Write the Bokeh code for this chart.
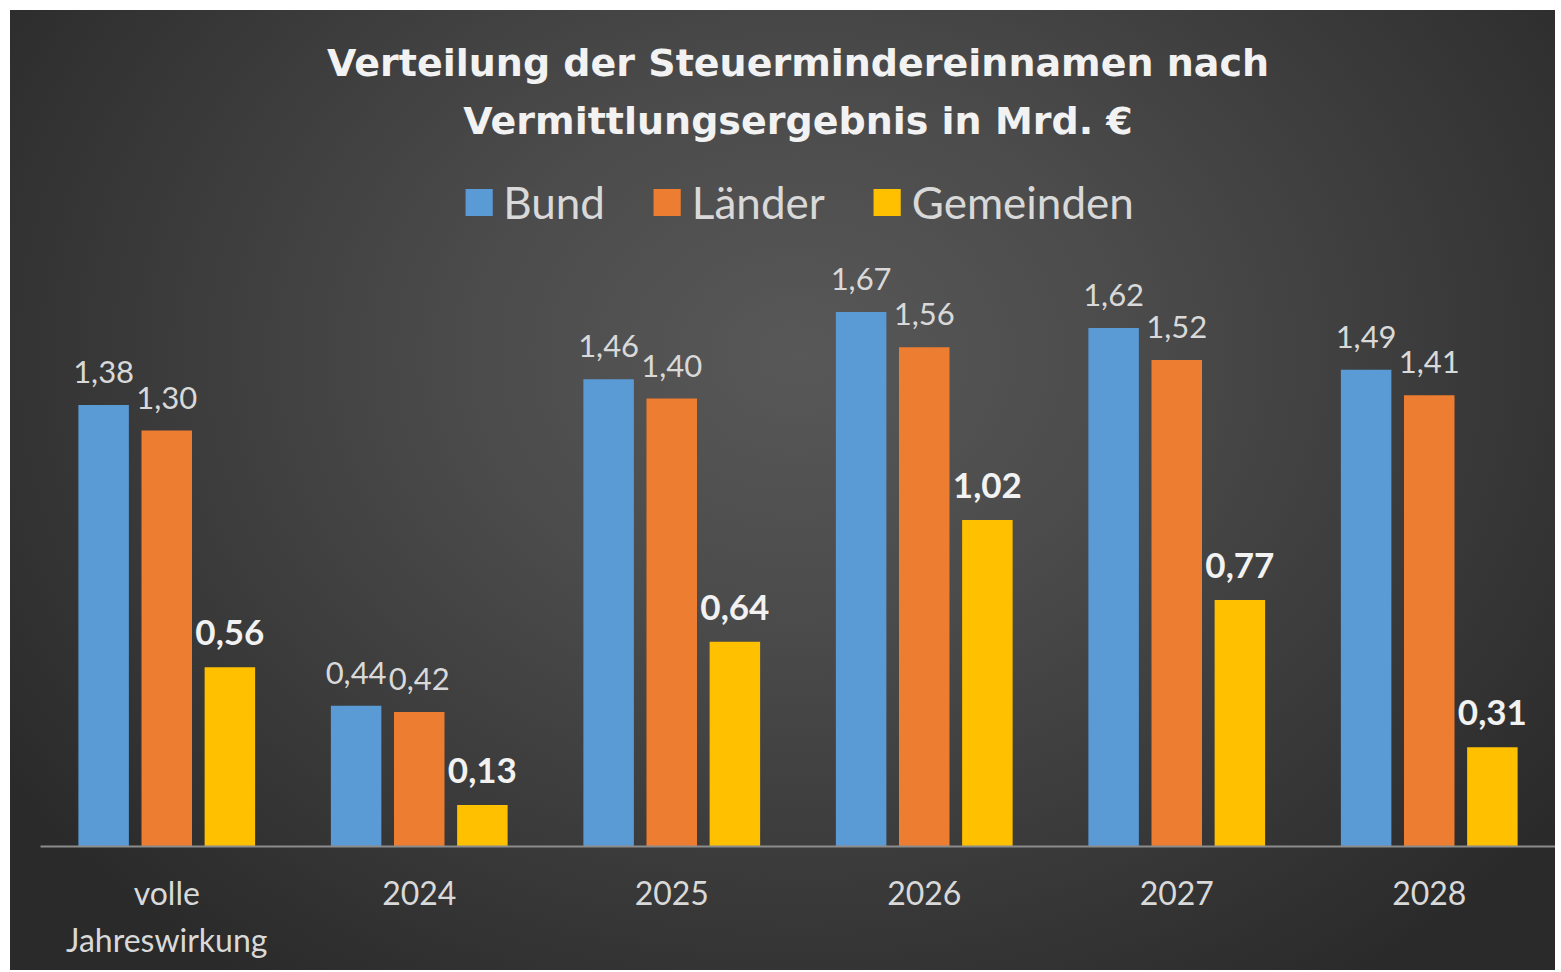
from bokeh.plotting import figure
from bokeh.models import ColumnDataSource, FactorRange, Range1d, LabelSet, Label, Legend, LegendItem
from bokeh.core.properties import value
from bokeh.transform import dodge
from bokeh.embed import file_html
from bokeh.resources import INLINE

categories = ["volle\nJahreswirkung", "2024", "2025", "2026", "2027", "2028"]
bund = [1.38, 0.44, 1.46, 1.67, 1.62, 1.49]
laender = [1.30, 0.42, 1.40, 1.56, 1.52, 1.41]
gemeinden = [0.56, 0.13, 0.64, 1.02, 0.77, 0.31]
series_names = ["Bund", "Länder", "Gemeinden"]
title_lines = ["Verteilung der Steuermindereinnamen nach", "Vermittlungsergebnis in Mrd. €"]


def fmt(v):
    return f"{v:.2f}".replace(".", ",")


source = ColumnDataSource(dict(
    cat=categories,
    bund=bund, laender=laender, gemeinden=gemeinden,
    bund_t=[fmt(v) for v in bund],
    laender_t=[fmt(v) for v in laender],
    gemeinden_t=[fmt(v) for v in gemeinden],
))

p = figure(
    x_range=FactorRange(factors=categories),
    y_range=Range1d(0, 2.6125),
    width=1545, height=960,
    output_backend="svg", toolbar_location=None,
    min_border_left=30, min_border_right=0, min_border_top=0, min_border_bottom=124,
    y_axis_location=None,
    margin=(10, 0, 0, 10),
)
p.styles = {"background": "radial-gradient(ellipse 62% 80% at 51% 36%, #585858 0%, #4b4b4b 35%, #2a2a2a 100%)"}
p.background_fill_color = None
p.border_fill_color = None
p.outline_line_color = None
p.xgrid.visible = False
p.ygrid.visible = False

font = "Lato"
colors = ["#5b9bd5", "#ed7d31", "#ffc000"]
fields = ["bund", "laender", "gemeinden"]
offsets = [-0.25, 0.0, 0.25]

renderers = []
for f, c, o in zip(fields, colors, offsets):
    r = p.vbar(x=dodge("cat", o, range=p.x_range), top=f, width=0.2, source=source,
               fill_color=c, line_color=None)
    renderers.append(r)

for f, o, bold in zip(fields, offsets, [False, False, True]):
    ls = LabelSet(x=dodge("cat", o, range=p.x_range), y=f, text=f + "_t", source=source,
                  text_align="center", text_baseline="alphabetic", y_offset=22,
                  text_font=value(font),
                  text_font_size=value("35px" if bold else "31px"),
                  text_font_style=value("bold" if bold else "normal"),
                  text_color=value("#f2f2f2" if bold else "#d9d9d9"))
    p.add_layout(ls)

legend = Legend(items=[LegendItem(label=n, renderers=[r]) for n, r in zip(series_names, renderers)],
                orientation="horizontal", location="top_center",
                label_text_font=font, label_text_font_size="44px", label_text_color="#d9d9d9",
                glyph_width=34, glyph_height=34, label_standoff=8, spacing=45,
                padding=0, margin=166,
                background_fill_alpha=0, border_line_color=None)
p.add_layout(legend)

for txt, yv in zip(title_lines, [2.45, 2.26875]):
    p.add_layout(Label(x=3.0, y=yv, text=txt, text_align="center", text_baseline="middle",
                       text_font="DejaVu Sans", text_font_style="bold", text_font_size="38px",
                       text_color="#f2f2f2"))

ax = p.xaxis[0]
ax.axis_line_color = "#8c8c8c"
ax.axis_line_width = 2
ax.major_tick_line_color = None
ax.minor_tick_line_color = None
ax.major_label_text_font = font
ax.major_label_text_font_size = "32px"
ax.major_label_text_color = "#d9d9d9"
ax.major_label_standoff = 20
ax.major_label_text_line_height = 1.23

open("out.html", "w").write(file_html(p, INLINE))
